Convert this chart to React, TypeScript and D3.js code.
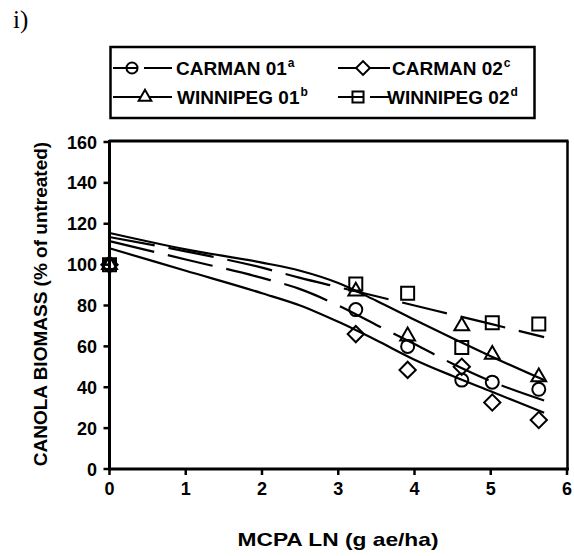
import React, { useEffect, useRef } from 'react';
import * as d3 from 'd3';

// observed data (MCPA LN dose vs biomass % of untreated)
const doses = [0, 3.23, 3.91, 4.62, 5.02, 5.63];
const carman01 = [100, 78, 60, 43.5, 42.5, 39];
const carman02 = [100, 66, 48.5, 50, 32.5, 24];
const winnipeg01 = [100, 87, 65, 70, 56, 45];
const winnipeg02 = [100, 90.5, 86, 59.5, 71.5, 71];

// fitted curves
const fitDoses = [0, 1, 2, 2.5, 3, 3.5, 4, 4.5, 5, 5.7];
const carman01Fit = [111.5, 102.5, 93.5, 88, 80, 70.5, 61.2, 51.5, 43, 33.5];
const carman02Fit = [108, 97, 86, 80, 72, 63, 53.5, 45.5, 38, 27.5];
const winnipeg01Fit = [115.5, 107.5, 101, 97, 91, 82.3, 73, 64, 55.2, 43.5];
const winnipeg02Fit = [113.5, 106.5, 98.5, 93.5, 89, 84.5, 80, 75.5, 71, 64.5];

const xTicks = [0, 1, 2, 3, 4, 5, 6];
const yTicks = [0, 20, 40, 60, 80, 100, 120, 140, 160];

const series = [
    { name: 'CARMAN 01', sup: 'a', values: carman01, fit: carman01Fit, marker: 'circle', dashed: true },
    { name: 'CARMAN 02', sup: 'c', values: carman02, fit: carman02Fit, marker: 'diamond', dashed: false },
    { name: 'WINNIPEG 01', sup: 'b', values: winnipeg01, fit: winnipeg01Fit, marker: 'triangle', dashed: false },
    { name: 'WINNIPEG 02', sup: 'd', values: winnipeg02, fit: winnipeg02Fit, marker: 'square', dashed: true },
];

// legend layout: [line start, line end, marker x, text x, row y]
const legendPos = [
    [113, 172, 132, 176, 68],
    [338, 390, 363, 392, 68],
    [113, 172, 145, 177, 97],
    [338, 390, 358, 387, 97],
];

const FONT = '"Liberation Sans", Arial, sans-serif';

const markerPath = (type, scale = 1) => {
    if (type === 'circle') return d3.symbol(d3.symbolCircle, Math.PI * 6.5 * 6.5 * scale * scale)();
    if (type === 'square') return d3.symbol(d3.symbolSquare, 13 * 13 * scale * scale)();
    if (type === 'diamond') return d3.symbol(d3.symbolSquare, 11.5 * 11.5 * scale * scale)();
    return d3.symbol(d3.symbolTriangle, 95 * scale * scale)();
};

export default function App() {

    const svgRef = useRef(null);

    const width = 574;
    const height = 556;

    useEffect(() => {

        const svg = d3.select(svgRef.current)
            .attr('width', width)
            .attr('height', height);

        svg.selectAll('*').remove();

        const xScale = d3.scaleLinear().domain([0, 6]).range([109.5, 567]);
        const yScale = d3.scaleLinear().domain([0, 160]).range([469, 142]);

        svg.append('rect').attr('width', width).attr('height', height).attr('fill', 'white');

        // panel label
        svg.append('text')
            .attr('x', 13).attr('y', 28)
            .attr('font-family', '"Liberation Serif", "Times New Roman", serif')
            .attr('font-size', 25)
            .text('i)');

        // frame
        svg.append('line').attr('x1', 109).attr('x2', 568.5).attr('y1', 141).attr('y2', 141)
            .attr('stroke', 'black').attr('stroke-width', 3);
        svg.append('line').attr('x1', 567.5).attr('x2', 567.5).attr('y1', 141).attr('y2', 470)
            .attr('stroke', 'black').attr('stroke-width', 2.5);

        // axes
        const g = svg.append('g');
        g.append('line').attr('x1', xScale(0)).attr('x2', xScale(0)).attr('y1', 140).attr('y2', 470)
            .attr('stroke', 'black').attr('stroke-width', 3);
        g.append('line').attr('x1', 108).attr('x2', 569).attr('y1', yScale(0)).attr('y2', yScale(0))
            .attr('stroke', 'black').attr('stroke-width', 3);

        g.selectAll('.ytick').data(yTicks).enter().append('line')
            .attr('x1', xScale(0) - 6).attr('x2', xScale(0))
            .attr('y1', d => yScale(d)).attr('y2', d => yScale(d))
            .attr('stroke', 'black').attr('stroke-width', 2.5);

        g.selectAll('.ylab').data(yTicks).enter().append('text')
            .attr('x', 97).attr('y', d => yScale(d) + 6.5)
            .attr('text-anchor', 'end')
            .attr('font-family', FONT).attr('font-weight', 'bold').attr('font-size', 18)
            .text(d => d);

        g.selectAll('.xtick').data(xTicks).enter().append('line')
            .attr('x1', d => xScale(d)).attr('x2', d => xScale(d))
            .attr('y1', yScale(0)).attr('y2', yScale(0) + 6)
            .attr('stroke', 'black').attr('stroke-width', 2.5);

        g.selectAll('.xlab').data(xTicks).enter().append('text')
            .attr('x', d => xScale(d)).attr('y', 495)
            .attr('text-anchor', 'middle')
            .attr('font-family', FONT).attr('font-weight', 'bold').attr('font-size', 18)
            .text(d => d);

        // axis titles
        svg.append('text')
            .attr('x', 338).attr('y', 546)
            .attr('text-anchor', 'middle')
            .attr('font-family', FONT).attr('font-weight', 'bold').attr('font-size', 19)
            .attr('textLength', 201).attr('lengthAdjust', 'spacingAndGlyphs')
            .text('MCPA LN (g ae/ha)');

        svg.append('text')
            .attr('transform', 'translate(47, 304) rotate(-90)')
            .attr('text-anchor', 'middle')
            .attr('font-family', FONT).attr('font-weight', 'bold').attr('font-size', 19)
            .text('CANOLA BIOMASS (% of untreated)');

        // fitted curves
        const line = d3.line()
            .x(d => xScale(d[0]))
            .y(d => yScale(d[1]))
            .curve(d3.curveMonotoneX);

        series.forEach(s => {
            svg.append('path')
                .datum(fitDoses.map((x, i) => [x, s.fit[i]]))
                .attr('d', line)
                .attr('fill', 'none')
                .attr('stroke', 'black')
                .attr('stroke-width', 2.2)
                .attr('stroke-dasharray', s.dashed ? '46 14' : null);
        });

        // markers
        series.forEach(s => {
            svg.selectAll(null)
                .data(doses.map((x, i) => [x, s.values[i]]))
                .enter()
                .append('path')
                .attr('d', markerPath(s.marker))
                .attr('transform', d => `translate(${xScale(d[0])}, ${yScale(d[1])})` + (s.marker === 'diamond' ? ' rotate(45)' : ''))
                .attr('fill', 'none')
                .attr('stroke', 'black')
                .attr('stroke-width', 2);
        });

        // legend
        const lg = svg.append('g');
        lg.append('rect')
            .attr('x', 110.5).attr('y', 47).attr('width', 424).attr('height', 71)
            .attr('fill', 'white').attr('stroke', 'black').attr('stroke-width', 2.5);

        series.forEach((s, i) => {
            const [x1, x2, mx, tx, y] = legendPos[i];
            if (s.dashed) {
                lg.append('line').attr('x1', x1).attr('x2', mx - 2).attr('y1', y).attr('y2', y)
                    .attr('stroke', 'black').attr('stroke-width', 2);
                lg.append('line').attr('x1', mx + 12).attr('x2', x2).attr('y1', y).attr('y2', y)
                    .attr('stroke', 'black').attr('stroke-width', 2);
            } else {
                lg.append('line').attr('x1', x1).attr('x2', x2).attr('y1', y).attr('y2', y)
                    .attr('stroke', 'black').attr('stroke-width', 2);
            }
            lg.append('path')
                .attr('d', markerPath(s.marker, 0.85))
                .attr('transform', `translate(${mx}, ${y})` + (s.marker === 'diamond' ? ' rotate(45)' : ''))
                .attr('fill', 'white')
                .attr('stroke', 'black')
                .attr('stroke-width', 2);
            if (s.dashed) {
                lg.append('line').attr('x1', mx - 6).attr('x2', mx + 6).attr('y1', y).attr('y2', y)
                    .attr('stroke', 'black').attr('stroke-width', 2);
            }
            const t = lg.append('text')
                .attr('x', tx).attr('y', y + 7)
                .attr('font-family', FONT).attr('font-weight', 'bold').attr('font-size', 19);
            t.append('tspan').text(s.name);
            t.append('tspan').attr('dy', -8).attr('dx', 1).attr('font-size', 12).text(s.sup);
        });

    });

    return (
        <svg ref={svgRef} style={{ position: 'absolute', left: 0, top: 0 }}></svg>
    );
}
